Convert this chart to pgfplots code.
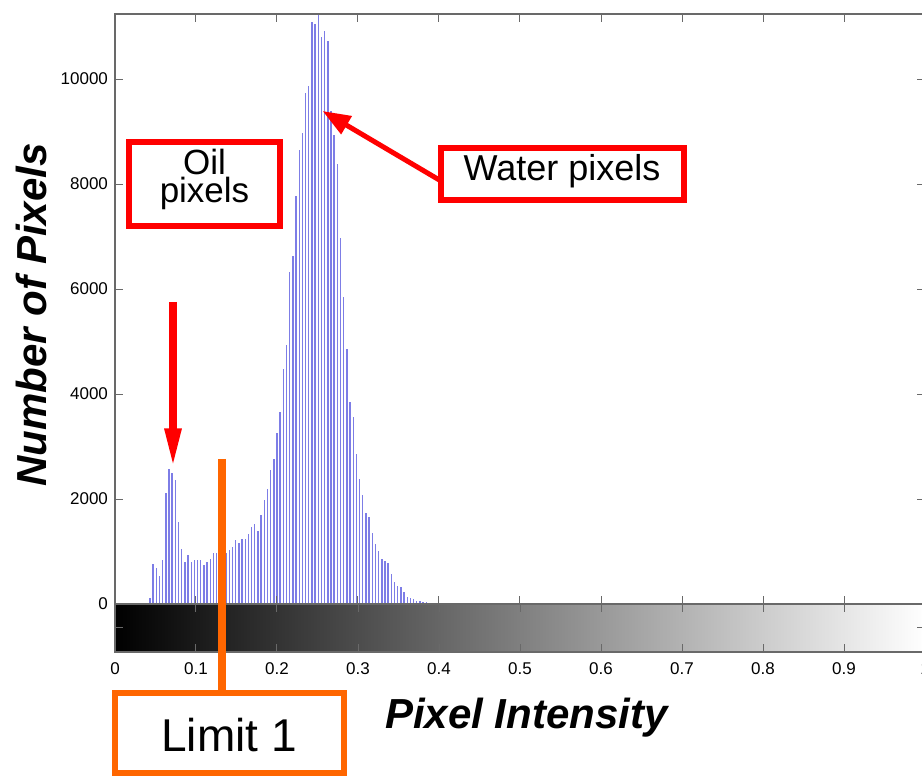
\documentclass[border=0pt]{standalone}
\usepackage{pgfplots}
\pgfplotsset{compat=1.18}
\usepackage{fontspec}
\setmainfont{Liberation Sans}
\usetikzlibrary{arrows.meta}

\definecolor{barblue}{RGB}{125,125,230}
\definecolor{axgray}{RGB}{105,105,105}
\definecolor{annred}{RGB}{255,0,0}
\definecolor{annorange}{RGB}{255,102,0}

% histogram counts, 256 bins over [0,1] (bin i sits at i/255)
\pgfplotstableread{
bin count
11 120
12 762
13 680
14 533
15 830
16 2105
17 2565
18 2500
19 2358
20 1568
21 1041
22 803
23 927
24 797
25 838
26 838
27 838
28 737
29 800
30 857
31 977
32 965
33 970
34 970
35 965
36 1035
37 1092
38 1225
39 1168
40 1232
41 1232
42 1333
43 1460
44 1524
45 1396
46 1702
47 1981
48 2184
49 2552
50 2755
51 3250
52 3660
53 4473
54 4933
55 6320
56 6620
57 7770
58 8640
59 8980
60 9727
61 9867
62 11080
63 11040
64 11240
65 10800
66 10920
67 10720
68 9400
69 8940
70 8380
71 6965
72 5845
73 4851
74 3850
75 3560
76 2857
77 2375
78 2076
79 1727
80 1651
81 1346
82 1150
83 1010
84 851
85 825
86 775
87 571
88 415
89 343
90 330
91 220
92 127
93 114
94 89
95 63
96 51
97 40
98 30
99 20
100 12
101 8
102 5
}\histdata

\begin{document}
\begin{tikzpicture}
\begin{axis}[
    at={(0,0)}, anchor=south west,
    scale only axis, width=405pt, height=295pt,
    xmin=0, xmax=255, ymin=0, ymax=11240,
    xtick={0,25.5,51,76.5,102,127.5,153,178.5,204,229.5,255},
    xticklabels={},
    ytick={0,2000,4000,6000,8000,10000},
    scaled y ticks=false,
    tick align=inside, major tick length=4.2pt,
    tick style={axgray, line width=0.5pt},
    axis line style={axgray, line width=0.6pt},
    axis on top,
    yticklabel style={font=\fontsize{8.5}{10}\selectfont},
    /pgf/number format/1000 sep={},
    /pgf/number format/assume math mode=true,
  ]
  \addplot[ycomb, barblue, line width=0.7pt, no marks] table[x=bin, y=count] {\histdata};
\end{axis}

% grey colour bar under the histogram
\begin{axis}[
    at={(0,0)}, anchor=north west,
    scale only axis, width=405pt, height=24pt,
    xmin=0, xmax=1, ymin=0, ymax=1,
    xtick={0,0.1,0.2,0.3,0.4,0.5,0.6,0.7,0.8,0.9,1},
    xticklabels={0,0.1,0.2,0.3,0.4,0.5,0.6,0.7,0.8,0.9,1},
    ytick={0.5}, yticklabels={},
    tick align=inside, major tick length=4.2pt,
    tick style={axgray, line width=0.5pt},
    axis line style={axgray, line width=0.6pt},
    axis on top,
    xticklabel style={font=\fontsize{8.5}{10}\selectfont, yshift=-2pt},
  ]
  \fill[left color=black, right color=white] (axis cs:0,0) rectangle (axis cs:1,1);
\end{axis}

% annotations, in pixel units of the reference
\begin{scope}[x=0.5pt, y=-0.5pt, shift={(-57.5pt,302pt)}]
  \draw[annred, line width=3pt] (129,141.7) rectangle (279.7,226);
  \node[anchor=north, inner sep=0pt, align=center, font=\fontsize{17.5}{14}\selectfont] at (204.5,149) {Oil\\pixels};
  \draw[annred, line width=3pt] (441,148) rectangle (684,200.5);
  \node[anchor=base, font=\fontsize{18}{21}\selectfont] at (562,181) {Water pixels};
  \draw[annred, line width=2.5pt, -{Triangle[length=14pt,width=10pt]}] (441,181) -- (322.5,111);
  \draw[annred, line width=3.8pt, -{Triangle[length=20pt,width=7.6pt]}] (173,302) -- (173,468.5);
  \draw[annorange, line width=4pt] (222,459) -- (222,693);
  \draw[annorange, line width=3pt] (115.5,693.5) rectangle (343.5,773.5);
  \node[anchor=base, font=\fontsize{23}{26}\selectfont] at (229,752) {Limit 1};
  \node[anchor=base, font=\fontsize{21}{24}\selectfont\bfseries\itshape] at (526.5,729) {Pixel Intensity};
  \node[anchor=base, rotate=90, font=\fontsize{21}{24}\selectfont\bfseries\itshape] at (47,315) {Number of Pixels};
  \pgfresetboundingbox
  \path[use as bounding box] (0,0) rectangle (922,780);
\end{scope}
\end{tikzpicture}
\end{document}
